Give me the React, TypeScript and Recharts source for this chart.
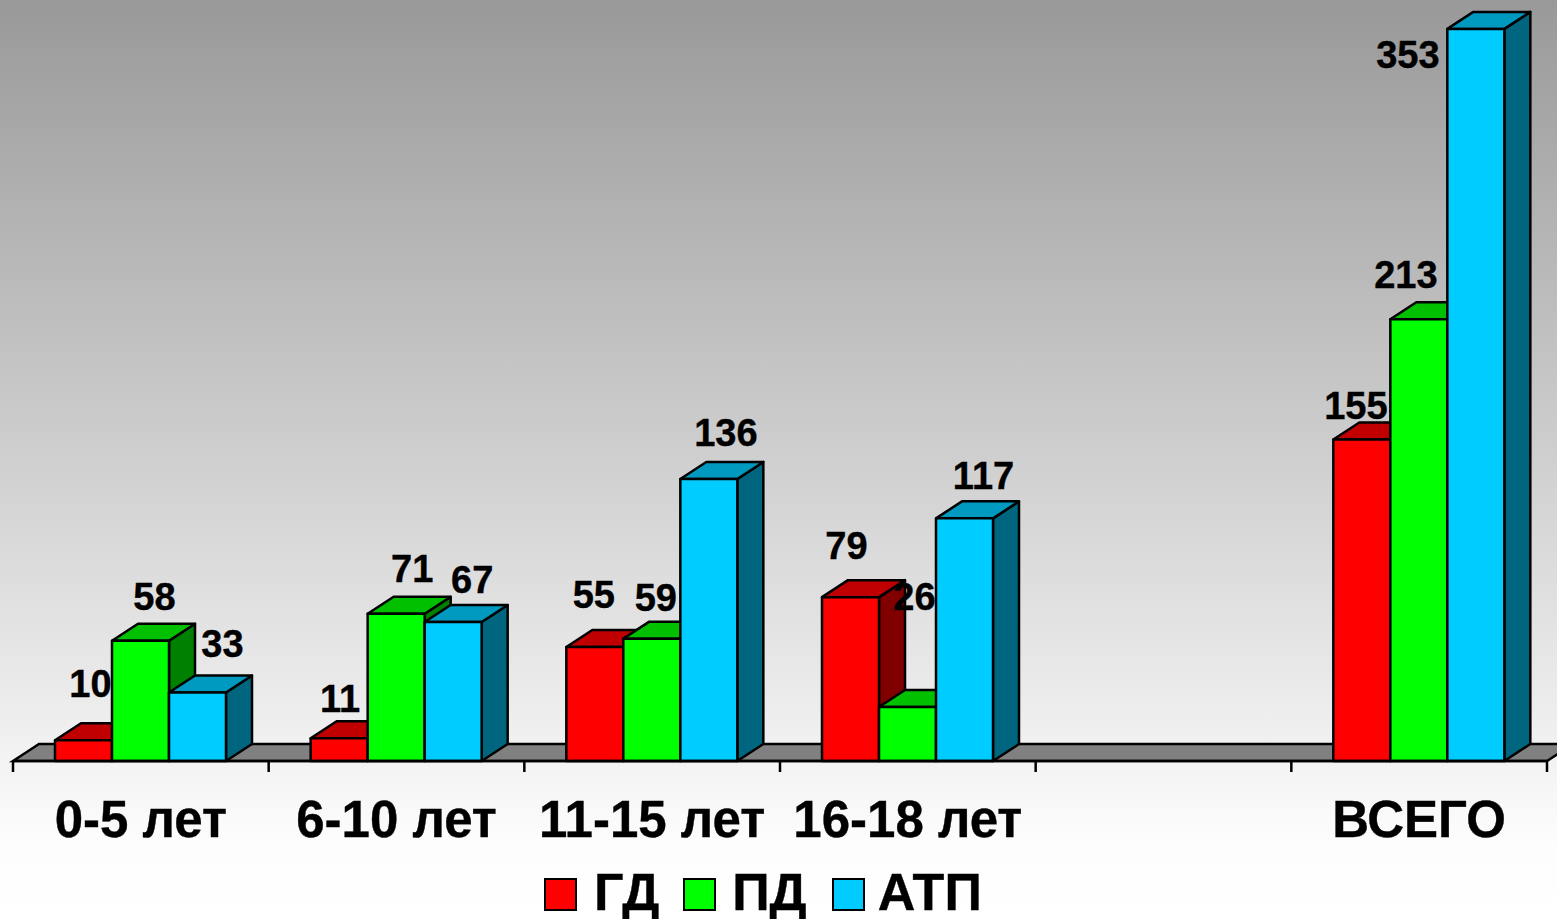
import { BarChart, Bar, XAxis, YAxis, Legend, LabelList, ReferenceArea } from 'recharts';

const categories = ['0-5 лет', '6-10 лет', '11-15 лет', '16-18 лет', '', 'ВСЕГО'];
const gdValues = [10, 11, 55, 79, null, 155];
const pdValues = [58, 71, 59, 26, null, 213];
const atpValues = [33, 67, 136, 117, null, 353];

const tableData = categories.map((name, i) => ({
  name,
  gd: gdValues[i],
  pd: pdValues[i],
  atp: atpValues[i],
}));

// hand placement of the value labels, relative to the top centre of each bar.
// the empty category gets no label, so it has no entry here
const gdNudge = [[7, -56], [1, -39], [-1, -52], [-4, -51], [-6, -34]];
const pdNudge = [[14, -44], [16, -45], [4, -41], [7, -110], [-13, -44]];
const atpNudge = [[25, -49], [19, -42], [17, -46], [19, -42], [-68, 26]];

const DEPTH_X = 26;
const DEPTH_Y = 17;
const FONT = '"Liberation Sans", Arial, sans-serif';

const RED = { front: '#ff0000', top: '#c00000', side: '#800000' };
const GREEN = { front: '#00ff00', top: '#00c000', side: '#008000' };
const BLUE = { front: '#00ccff', top: '#0099c0', side: '#006680' };

function box3d(colors: { front: string; top: string; side: string }) {
  return function Box(props: any) {
    const { x, y, width, height } = props;
    if (!height) return null;
    const r = x + width;
    const b = y + height;
    return (
      <g stroke="#000" strokeWidth={2.5} strokeLinejoin="round">
        <path
          d={`M${r} ${y}L${r + DEPTH_X} ${y - DEPTH_Y}L${r + DEPTH_X} ${b - DEPTH_Y}L${r} ${b}Z`}
          fill={colors.side}
        />
        <path
          d={`M${x} ${y}L${x + DEPTH_X} ${y - DEPTH_Y}L${r + DEPTH_X} ${y - DEPTH_Y}L${r} ${y}Z`}
          fill={colors.top}
        />
        <rect x={x} y={y} width={width} height={height} fill={colors.front} />
      </g>
    );
  };
}

function valueLabel(nudges: number[][]) {
  return function ValueLabel(props: any) {
    const { x, y, width, value, index } = props;
    const nudge = nudges[index];
    if (value == null || !nudge) return null;
    return (
      <text
        x={x + width / 2 + nudge[0]}
        y={y + nudge[1]}
        textAnchor="middle"
        dominantBaseline="central"
        fontFamily={FONT}
        fontWeight="bold"
        fontSize={38}
        fill="#000"
        stroke="#000"
        strokeWidth={0.4}
      >
        {value}
      </text>
    );
  };
}

function Floor(props: any) {
  const { x, y, width, height } = props;
  const b = y + height;
  const r = x + width;
  return (
    <path
      d={`M${x} ${b}L${x + DEPTH_X} ${b - DEPTH_Y}L${r + DEPTH_X} ${b - DEPTH_Y}L${r} ${b}Z`}
      fill="#808080"
      stroke="#000"
      strokeWidth={2.5}
    />
  );
}

function CategoryTick(props: any) {
  const { x, y, payload, index, step } = props;
  const half = step / 2;
  return (
    <g>
      <line x1={x - half} y1={y} x2={x - half} y2={y + 11} stroke="#000" strokeWidth={2.5} />
      {index === categories.length - 1 && (
        <line x1={x + half} y1={y} x2={x + half} y2={y + 11} stroke="#000" strokeWidth={2.5} />
      )}
      <text
        x={x}
        y={y + 76}
        textAnchor="middle"
        fontFamily={FONT}
        fontWeight="bold"
        fontSize={51}
        fill="#000"
        stroke="#000"
        strokeWidth={0.4}
      >
        {payload.value}
      </text>
    </g>
  );
}

const legendItems = [
  { label: 'ГД', color: RED.front, gap: 17, after: 24 },
  { label: 'ПД', color: GREEN.front, gap: 16, after: 25 },
  { label: 'АТП', color: BLUE.front, gap: 13, after: 0 },
];

function LegendRow() {
  return (
    <div
      style={{
        display: 'flex',
        alignItems: 'center',
        paddingLeft: 531,
        fontFamily: FONT,
        fontWeight: 'bold',
        fontSize: 52,
        lineHeight: '54px',
        color: '#000',
        WebkitTextStroke: '0.4px #000',
      }}
    >
      {legendItems.map((item) => (
        <div key={item.label} style={{ display: 'flex', alignItems: 'center', marginRight: item.after }}>
          <div
            style={{
              width: 29,
              height: 29,
              background: item.color,
              border: '2.5px solid #000',
              marginRight: item.gap,
              position: 'relative',
              top: 2,
            }}
          />
          <span>{item.label}</span>
        </div>
      ))}
    </div>
  );
}

export default function App() {
  return (
    <div
      style={{
        position: 'absolute',
        left: 0,
        top: 0,
        width: 1557,
        height: 919,
        overflow: 'hidden',
        background: 'linear-gradient(180deg, #999999 0%, #fdfdfd 92%, #ffffff 100%)',
      }}
    >
      <BarChart
        width={1557}
        height={919}
        data={tableData}
        margin={{ top: 4, right: 10, bottom: 0, left: 13 }}
        barCategoryGap={42}
        barGap={0}
        style={{ overflow: 'hidden' }}
      >
        <XAxis
          dataKey="name"
          interval={0}
          height={104}
          tickSize={0}
          tickMargin={0}
          tickLine={false}
          axisLine={{ stroke: '#000', strokeWidth: 2.5 }}
          tick={(p: any) => <CategoryTick {...p} step={1534 / categories.length} />}
        />
        <YAxis hide domain={[0, 365]} />
        <ReferenceArea y1={0} y2={365} shape={Floor} ifOverflow="visible" />
        <Legend verticalAlign="bottom" height={54} content={() => <LegendRow />} />
        <Bar dataKey="gd" isAnimationActive={false} shape={box3d(RED)}>
          <LabelList dataKey="gd" content={valueLabel(gdNudge)} />
        </Bar>
        <Bar dataKey="pd" isAnimationActive={false} shape={box3d(GREEN)}>
          <LabelList dataKey="pd" content={valueLabel(pdNudge)} />
        </Bar>
        <Bar dataKey="atp" isAnimationActive={false} shape={box3d(BLUE)}>
          <LabelList dataKey="atp" content={valueLabel(atpNudge)} />
        </Bar>
      </BarChart>
    </div>
  );
}
